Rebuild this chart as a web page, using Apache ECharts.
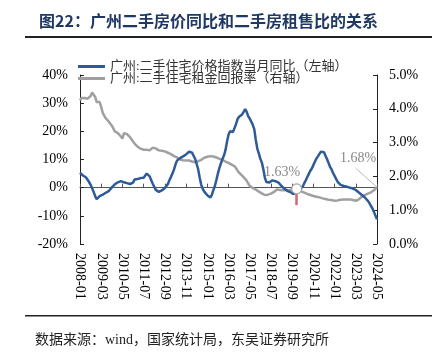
<!DOCTYPE html>
<html>
<head>
<meta charset="utf-8">
<script src="https://cdn.jsdelivr.net/npm/echarts@6/dist/echarts.min.js"></script>
<style>
html,body{margin:0;padding:0;background:#fff;}
#c{width:436px;height:356px;}
</style>
</head>
<body>
<div id="c"></div>
<script>
// Month categories 2008-01 .. 2024-05
var categories = [];
for (var y = 2008; y <= 2024; y++) {
  for (var m = 1; m <= 12; m++) {
    if (y === 2024 && m > 5) break;
    categories.push(y + '-' + (m < 10 ? '0' + m : m));
  }
}

var seriesNames = ['广州:二手住宅价格指数当月同比（左轴）', '广州:二手住宅租金回报率（右轴）'];

// 广州:二手住宅价格指数当月同比 (%)
var priceYoY = [
  5.3,4.6,4.3,3.9,3.6,2.9,2.0,1.0,-0.2,-1.5,-3.0,-4.1,
  -3.6,-3.0,-2.7,-2.5,-2.2,-1.8,-1.5,-1.2,-0.6,0.1,0.6,1.2,
  1.6,1.9,2.2,2.3,2.1,1.9,1.7,1.6,1.4,1.3,1.2,1.8,
  2.9,3.3,3.1,3.3,3.4,3.6,3.5,4.2,5.0,5.3,4.0,2.6,
  1.4,0.3,-0.8,-1.2,-1.5,-1.5,-1.0,-0.6,-0.1,0.3,1.3,2.6,
  3.8,5.0,6.4,8.2,9.6,10.2,10.5,10.8,11.1,11.3,11.8,12.4,
  12.8,12.9,12.4,11.8,10.2,8.4,6.5,3.5,1.0,-0.4,-1.4,-2.1,
  -2.7,-3.1,-3.5,-2.6,-0.9,0.6,2.7,5.0,7.0,8.6,10.2,11.4,
  13.3,16.3,18.8,20.0,20.3,19.8,20.1,22.6,24.4,25.2,25.6,26.0,
  26.9,27.9,26.9,25.4,24.5,23.5,22.3,20.8,17.0,13.9,12.2,10.3,
  8.9,6.5,3.6,2.0,2.2,1.8,2.0,2.6,2.7,2.3,2.0,1.8,
  1.3,0.6,0.0,-0.4,-0.8,-1.2,-1.5,-1.6,-2.0,-2.3,-2.4,-1.0,
  -0.8,-0.6,-0.6,0.4,1.6,2.6,3.8,4.9,6.0,6.8,8.0,9.2,
  10.3,11.1,12.0,12.8,13.3,12.6,11.3,10.2,8.8,7.4,6.5,5.2,
  4.2,3.1,2.1,1.4,1.0,0.7,0.6,0.4,0.3,0.2,0.0,-0.2,
  -0.3,-0.5,-0.8,-1.2,-1.7,-2.1,-2.6,-3.0,-3.5,-4.1,-4.7,-5.5,
  -6.5,-7.4,-8.6,-10.0,-11.2
];

// 广州:二手住宅租金回报率 (%)
var rentYield = [
  4.25,4.32,4.35,4.32,4.30,4.30,4.31,4.38,4.48,4.52,4.35,4.20,
  4.22,4.20,4.05,3.88,3.80,3.72,3.68,3.62,3.57,3.50,3.42,3.33,
  3.30,3.28,3.26,3.18,3.12,3.28,3.30,3.25,3.20,3.16,3.10,3.03,
  2.97,2.92,2.88,2.84,2.82,2.80,2.79,2.78,2.79,2.78,2.77,2.80,
  2.85,2.86,2.83,2.80,2.77,2.77,2.76,2.75,2.74,2.72,2.70,2.68,
  2.66,2.63,2.60,2.58,2.56,2.53,2.50,2.48,2.48,2.49,2.47,2.48,
  2.47,2.45,2.44,2.43,2.42,2.44,2.45,2.46,2.49,2.52,2.55,2.57,
  2.58,2.59,2.60,2.59,2.59,2.58,2.56,2.55,2.52,2.50,2.49,2.46,
  2.44,2.42,2.40,2.38,2.35,2.33,2.30,2.24,2.17,2.11,2.06,2.02,
  1.97,1.93,1.87,1.79,1.72,1.69,1.66,1.64,1.61,1.58,1.55,1.53,
  1.50,1.47,1.45,1.44,1.46,1.47,1.49,1.51,1.54,1.58,1.61,1.62,
  1.60,1.59,1.59,1.58,1.60,1.59,1.59,1.60,1.61,1.62,1.62,1.63,
  1.61,1.58,1.56,1.54,1.52,1.50,1.48,1.46,1.45,1.44,1.42,1.41,
  1.40,1.39,1.38,1.36,1.35,1.34,1.33,1.32,1.31,1.30,1.30,1.29,
  1.28,1.28,1.29,1.30,1.31,1.32,1.32,1.31,1.32,1.33,1.32,1.31,
  1.30,1.29,1.28,1.28,1.32,1.36,1.40,1.42,1.45,1.47,1.49,1.51,
  1.53,1.55,1.59,1.63,1.68
];

var leftTicks = { min: -20, max: 40, interval: 10 };
var rightTicks = { min: 0, max: 5, interval: 1 };

// annotations
var markMonth = '2019-12';
var markValue = 1.63;
var endMonth = '2024-05';
var endValue = 1.68;
var redMark = [-0.6, -6.2];        // left-axis extent of red marker
var leaderStart = ['2023-03', 2.24]; // leader line start for end label (right-axis units)

var serif = '"Liberation Serif", "Noto Sans CJK SC", serif';

var chart = echarts.init(document.getElementById('c'));
chart.setOption({
  animation: false,
  backgroundColor: '#fff',
  title: {
    text: '图22：广州二手房价同比和二手房租售比的关系',
    left: 34, top: 8,
    textStyle: { fontFamily: '"Noto Sans CJK SC", sans-serif', fontWeight: 'bold', fontSize: 16, color: '#1f3864' }
  },
  graphic: [
    { type: 'rect', shape: { x: 25, y: 36, width: 407, height: 2 }, style: { fill: '#222' } },
    { type: 'rect', shape: { x: 25, y: 315, width: 407, height: 1.5 }, style: { fill: '#222' } },
    { type: 'text', left: 35, top: 333, style: { text: '数据来源：wind，国家统计局，东吴证券研究所', font: '14px ' + serif, fill: '#222' } }
  ],
  legend: [
    { data: [seriesNames[0]], left: 73, top: 55, orient: 'vertical', icon: 'rect', itemWidth: 27, itemHeight: 3, itemGap: 0,
      textStyle: { fontFamily: serif, fontSize: 13, color: '#333' } },
    { data: [seriesNames[1]], left: 73, top: 67, orient: 'vertical', icon: 'rect', itemWidth: 27, itemHeight: 3, itemGap: 0,
      textStyle: { fontFamily: serif, fontSize: 13, color: '#333' } }
  ],
  grid: { left: 80, right: 59, top: 75, bottom: 112, containLabel: false },
  xAxis: [
    {
      type: 'category', data: categories, boundaryGap: false, position: 'bottom',
      axisLine: { show: false, onZero: false },
      axisTick: { show: false },
      axisLabel: { interval: 13, rotate: -90, margin: 9, fontFamily: serif, fontSize: 14, color: '#000' },
      splitLine: { show: false }
    },
    {
      type: 'category', data: categories, boundaryGap: false, position: 'bottom',
      axisLine: { show: true, onZero: true, onZeroAxisIndex: 0, lineStyle: { color: '#555', width: 1 } },
      axisTick: { show: true, inside: true, interval: 13, length: 4, lineStyle: { color: '#555' } },
      axisLabel: { show: false },
      splitLine: { show: false }
    }
  ],
  yAxis: [
    {
      type: 'value', min: leftTicks.min, max: leftTicks.max, interval: leftTicks.interval,
      axisLine: { show: true, lineStyle: { color: '#222' } },
      axisTick: { show: true, inside: true, length: 4, lineStyle: { color: '#222' } },
      axisLabel: { formatter: '{value}%', margin: 12, fontFamily: serif, fontSize: 14, color: '#000' },
      splitLine: { show: false }
    },
    {
      type: 'value', min: rightTicks.min, max: rightTicks.max, interval: rightTicks.interval,
      axisLine: { show: true, lineStyle: { color: '#222' } },
      axisTick: { show: true, inside: true, length: 4, lineStyle: { color: '#222' } },
      axisLabel: { formatter: function (v) { return v.toFixed(1) + '%'; }, margin: 12, fontFamily: serif, fontSize: 14, color: '#000' },
      splitLine: { show: false }
    }
  ],
  series: [
    {
      name: seriesNames[0], type: 'line', xAxisIndex: 0, yAxisIndex: 0, data: priceYoY,
      symbol: 'none', z: 3,
      lineStyle: { color: '#2e5b98', width: 2.5 }, itemStyle: { color: '#2e5b98' },
      markLine: {
        silent: true, symbol: 'none', label: { show: false },
        lineStyle: { color: '#d9666a', width: 2.5, type: 'solid' },
        data: [[{ coord: [markMonth, redMark[0]] }, { coord: [markMonth, redMark[1]] }]]
      }
    },
    {
      name: seriesNames[1], type: 'line', xAxisIndex: 0, yAxisIndex: 1, data: rentYield,
      symbol: 'none', z: 2,
      lineStyle: { color: '#a0a0a0', width: 2.5 }, itemStyle: { color: '#a0a0a0' },
      markPoint: {
        silent: true,
        data: [
          { coord: [markMonth, markValue], symbol: 'circle', symbolSize: 10,
            itemStyle: { color: '#fff', borderColor: '#a0a0a0', borderWidth: 1.2 },
            label: { show: true, formatter: markValue.toFixed(2) + '%', position: 'left', offset: [14, -17],
              fontFamily: serif, fontSize: 14, color: '#888' } },
          { coord: [endMonth, endValue], symbol: 'circle', symbolSize: 0,
            label: { show: true, formatter: endValue.toFixed(2) + '%', position: 'top', offset: [-19, -17],
              fontFamily: serif, fontSize: 14, color: '#888' } }
        ]
      },
      markLine: {
        silent: true, symbol: 'none', label: { show: false },
        lineStyle: { color: '#bbb', width: 1, type: 'solid' },
        data: [[{ coord: leaderStart }, { coord: [endMonth, endValue] }]]
      }
    }
  ]
});
</script>
</body>
</html>
